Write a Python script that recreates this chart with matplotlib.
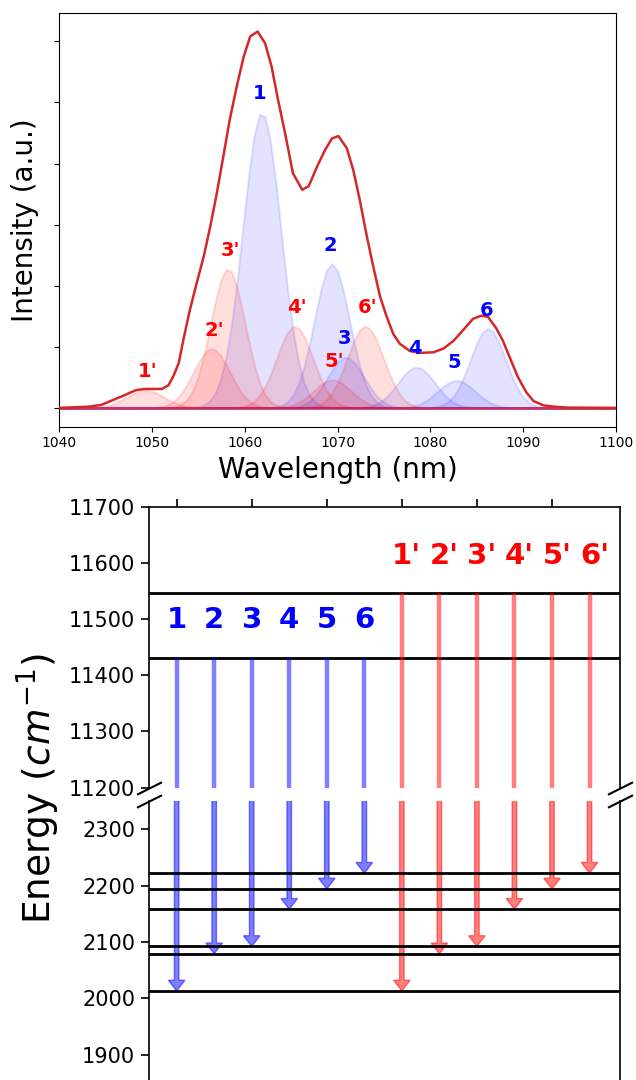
import numpy as np
import matplotlib.pyplot as plt

wl = [1040.0, 1043.2, 1044.6, 1046.0, 1047.1, 1048.3, 1049.2, 1051.1, 1051.8,
      1052.3, 1052.9, 1053.4, 1054.1, 1054.8, 1055.6, 1056.3, 1057.0, 1057.7,
      1058.4, 1059.15, 1059.9, 1060.6, 1061.4, 1062.2, 1062.9, 1063.6, 1064.35,
      1065.2, 1066.2, 1066.9, 1067.8, 1068.65, 1069.4, 1070.1, 1071.0, 1071.7,
      1072.4, 1073.1, 1073.85, 1074.6, 1075.3, 1076.0, 1076.7, 1077.8, 1078.9,
      1080.3, 1081.4, 1082.5, 1083.5, 1084.6, 1085.5, 1086.2, 1087.1, 1087.8,
      1088.5, 1089.4, 1090.3, 1091.1, 1092.2, 1093.3, 1094.7, 1100.0]
inten = [0.0, 0.02, 0.05, 0.14, 0.21, 0.29, 0.31, 0.31, 0.37,
         0.51, 0.73, 1.11, 1.60, 2.02, 2.48, 2.97, 3.51, 4.11,
         4.72, 5.26, 5.75, 6.08, 6.16, 5.97, 5.59, 5.04, 4.50,
         3.84, 3.57, 3.63, 3.95, 4.22, 4.41, 4.45, 4.25, 3.89,
         3.40, 2.85, 2.31, 1.81, 1.49, 1.21, 1.05, 0.93, 0.90,
         0.91, 0.97, 1.10, 1.27, 1.46, 1.51, 1.49, 1.30, 1.10,
         0.84, 0.51, 0.26, 0.11, 0.04, 0.02, 0.005, 0.0]

# fitted gaussian components
blue_labels = ["1", "2", "3", "4", "5", "6"]
blue_center = [1061.85, 1069.4, 1070.9, 1078.5, 1082.8, 1086.2]
blue_height = [4.84, 2.36, 0.83, 0.67, 0.45, 1.30]
blue_sigma = [2.05, 1.9, 1.95, 2.0, 2.0, 1.9]

red_labels = ["1'", "2'", "3'", "4'", "5'", "6'"]
red_center = [1049.3, 1056.45, 1058.2, 1065.4, 1069.45, 1073.0]
red_height = [0.29, 0.97, 2.28, 1.34, 0.46, 1.34]
red_sigma = [2.0, 1.95, 1.85, 1.95, 2.0, 1.95]

# energy levels (cm^-1)
upper_blue = 11431
upper_red = 11546
ground = [2013, 2079, 2092, 2158, 2194, 2222]

fig = plt.figure(figsize=(6.36, 10.8), dpi=100)

# ---- spectrum ----
ax1 = fig.add_axes([0.0925, 0.6049, 0.8764, 0.3833])
x = np.arange(1040, 1100.01, 0.6)
for c, h, s in zip(blue_center, blue_height, blue_sigma):
    ax1.fill_between(x, h * np.exp(-(x - c) ** 2 / (2 * s ** 2)),
                     color="blue", alpha=0.11, lw=1.5)
for c, h, s in zip(red_center, red_height, red_sigma):
    ax1.fill_between(x, h * np.exp(-(x - c) ** 2 / (2 * s ** 2)),
                     color="red", alpha=0.13, lw=1.5)
ax1.plot(wl, inten, color="#d62728", lw=1.8, zorder=5)

for lab, c, h in zip(blue_labels, blue_center, blue_height):
    ax1.text(c - 0.2, h + 0.3, lab, color="blue", fontsize=14,
             fontweight="bold", ha="center", va="center", zorder=6)
for lab, c, h in zip(red_labels, red_center, red_height):
    ax1.text(c + 0.25, h + 0.3, lab, color="red", fontsize=14,
             fontweight="bold", ha="center", va="center", zorder=6)

ax1.set_xlim(1040, 1100)
ax1.tick_params(labelleft=False)
ax1.set_xlabel("Wavelength (nm)", fontsize=20)
ax1.set_ylabel("Intensity (a.u.)", fontsize=20)
ax1.yaxis.set_label_coords(-0.035, 0.5)

# ---- energy diagram (broken axis) ----
ax_up = fig.add_axes([0.2335, 0.2708, 0.7406, 0.2597])
ax_lo = fig.add_axes([0.2335, -0.0287, 0.7406, 0.2870])

xpos = np.arange(12)
xb = xpos[:6]
xr = xpos[6:]

for ax in (ax_up, ax_lo):
    ax.set_xlim(-0.75, 11.8)
    for sp in ax.spines.values():
        sp.set_linewidth(1.2)
    ax.tick_params(labelsize=15, length=6, width=1.2)

ax_up.set_ylim(11200, 11700)
ax_lo.set_ylim(1800, 2350)
ax_up.set_yticks(np.arange(11200, 11701, 100))
ax_lo.set_yticks(np.arange(1900, 2301, 100))
ax_up.spines["bottom"].set_visible(False)
ax_lo.spines["top"].set_visible(False)
ax_up.xaxis.tick_top()
ax_up.set_xticks(xpos[::2])
ax_up.tick_params(axis="x", labeltop=False)
ax_lo.xaxis.tick_bottom()
ax_lo.tick_params(axis="x", labelbottom=False)

ax_up.axhline(upper_blue, color="k", lw=2)
ax_up.axhline(upper_red, color="k", lw=2)
for g in ground:
    ax_lo.axhline(g, color="k", lw=2)

for xi, lab in zip(xb, blue_labels):
    ax_up.text(xi, upper_blue + 67, lab, color="blue", fontsize=21,
               fontweight="bold", ha="center", va="center")
for xi, lab in zip(xr, red_labels):
    ax_up.text(xi + 0.13, upper_red + 67, lab, color="red", fontsize=21,
               fontweight="bold", ha="center", va="center")

for xs, top, col in ((xb, upper_blue, "blue"), (xr, upper_red, "red")):
    for xi, g in zip(xs, ground):
        ax_up.plot([xi, xi], [top, 11100], color=col, alpha=0.5, lw=3.2,
                   solid_capstyle="butt")
        ax_lo.arrow(xi, 2400, 0, g - 2400, width=0.12, head_width=0.44,
                    head_length=19, length_includes_head=True,
                    color=col, alpha=0.5, lw=1)

# break marks
kw = dict(marker=[(-1, -0.5), (1, 0.5)], markersize=18, linestyle="none",
          color="k", mec="k", mew=1.5, clip_on=False)
ax_up.plot([0, 1], [0, 0], transform=ax_up.transAxes, **kw)
ax_lo.plot([0, 1], [1, 1], transform=ax_lo.transAxes, **kw)

fig.text(0.06, 0.27, "Energy ($cm^{-1}$)", rotation=90, fontsize=27,
         ha="center", va="center")

fig.savefig("out.png", dpi=100)
